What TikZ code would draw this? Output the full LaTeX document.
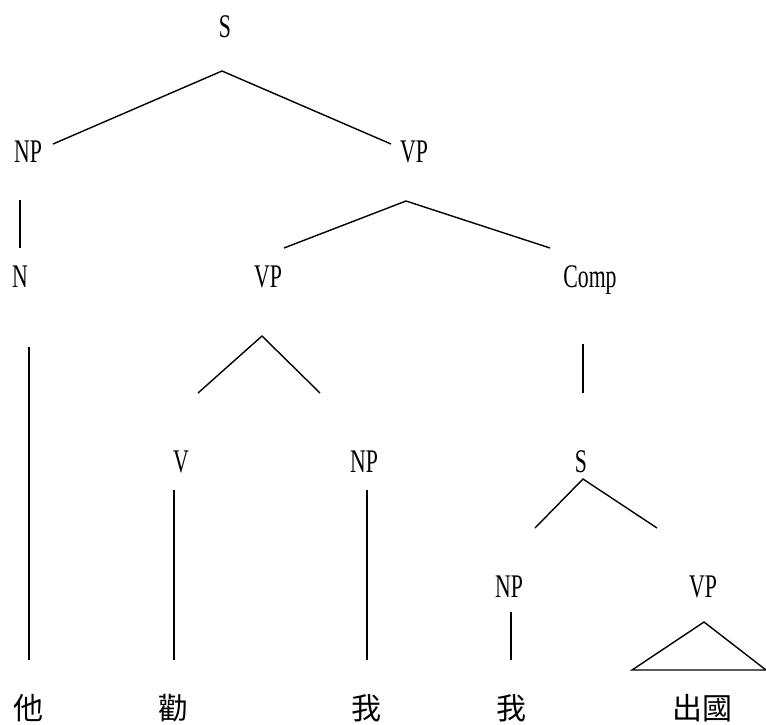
\documentclass[tikz,border=0pt]{standalone}
\usepackage{fontspec}
\setmainfont{Liberation Serif}
\newfontfamily\cjk{Noto Sans CJK TC}
\usetikzlibrary{calc}
\newcommand{\nt}[1]{\scalebox{0.66}[1]{#1}}
\tikzset{
  cat/.style={anchor=base, inner sep=0pt, font=\fontsize{33}{33}\selectfont},
  word/.style={inner sep=0pt, font=\cjk\fontsize{30}{30}\selectfont},
  branch/.style={line width=1.4pt}
}

\begin{document}
\begin{tikzpicture}[x=1pt,y=-1pt]
      \useasboundingbox (0,0) rectangle (766,724);
      \node[cat] (S0) at (225,37) {\nt{S}};
      \node[cat] (np1) at (28,162) {\nt{NP}};
      \node[cat] (vp1) at (414,162) {\nt{VP}};
      \node[cat] (n1) at (20,287) {\nt{N}};
      \node[cat] (vp2) at (268,287) {\nt{VP}};
      \node[cat] (comp) at (590,287) {\nt{Comp}};
      \node[cat] (v) at (181,472) {\nt{V}};
      \node[cat] (np2) at (364,472) {\nt{NP}};
      \node[cat] (s1) at (581,472) {\nt{S}};
      \node[cat] (np3) at (509,597) {\nt{NP}};
      \node[cat] (vp3) at (703,597) {\nt{VP}};
      \node[word] (ta) at (28,708) {他};
      \node[word] (quan) at (173,708) {勸};
      \node[word] (wo1) at (366,708) {我};
      \node[word] (wo2) at (511,708) {我};
      \node[word] (chuguo) at (702,708) {出國};
      % branch points
      \coordinate (s0-a) at (222,71);
      \coordinate (s0-l) at (53,144);
      \coordinate (s0-r) at (391,144);
      \coordinate (np1-t) at (20,200);
      \coordinate (np1-b) at (20,248);
      \coordinate (vp1-a) at (406,201);
      \coordinate (vp1-l) at (284,248);
      \coordinate (vp1-r) at (550,248);
      \coordinate (n1-t) at (29,347);
      \coordinate (n1-b) at (29,660);
      \coordinate (vp2-a) at (262,336);
      \coordinate (vp2-l) at (198,393);
      \coordinate (vp2-r) at (320,393);
      \coordinate (comp-t) at (583,344);
      \coordinate (comp-b) at (583,393);
      \coordinate (v-t) at (174,490);
      \coordinate (v-b) at (174,660);
      \coordinate (np2-t) at (367,490);
      \coordinate (np2-b) at (367,660);
      \coordinate (s1-a) at (583,479);
      \coordinate (s1-l) at (535,528);
      \coordinate (s1-r) at (657,528);
      \coordinate (np3-t) at (511,612);
      \coordinate (np3-b) at (511,660);
      \coordinate (vp3-a) at (704,622);
      \coordinate (vp3-l) at (632,670);
      \coordinate (vp3-r) at (766,670);
      \draw[branch] (s0-l) -- (s0-a) -- (s0-r);
      \draw[branch] (np1-t) -- (np1-b);
      \draw[branch] (vp1-l) -- (vp1-a) -- (vp1-r);
      \draw[branch] (n1-t) -- (n1-b);
      \draw[branch] (vp2-l) -- (vp2-a) -- (vp2-r);
      \draw[branch] (comp-t) -- (comp-b);
      \draw[branch] (v-t) -- (v-b);
      \draw[branch] (np2-t) -- (np2-b);
      \draw[branch] (s1-l) -- (s1-a) -- (s1-r);
      \draw[branch] (np3-t) -- (np3-b);
      \draw[branch] (vp3-l) -- (vp3-a) -- (vp3-r) -- cycle;
\end{tikzpicture}
\end{document}
